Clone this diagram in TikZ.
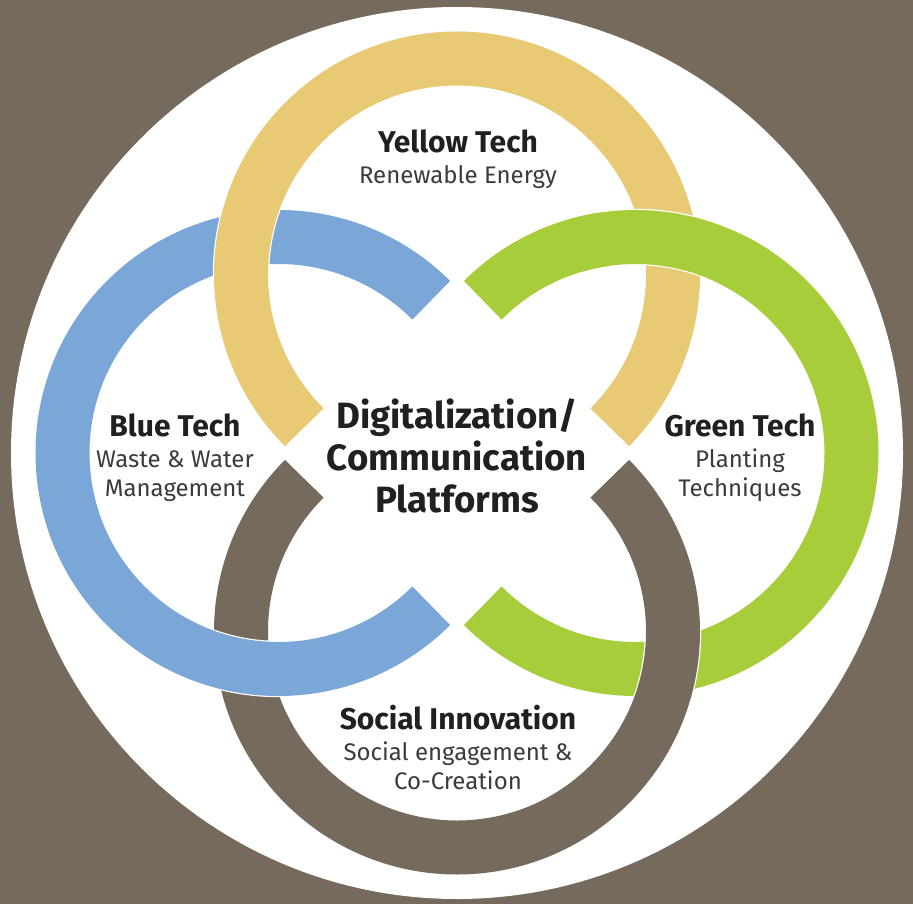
\documentclass[tikz,border=0pt]{standalone}
\usepackage{fontspec}
\setmainfont{Fira Sans}
\definecolor{bgbrown}{RGB}{118,106,93}
\definecolor{ylw}{RGB}{232,202,116}
\definecolor{blu}{RGB}{123,167,216}
\definecolor{grn}{RGB}{168,205,58}
\definecolor{ink}{RGB}{35,31,32}
\definecolor{subink}{RGB}{60,58,58}
\newcommand{\ringtitle}[1]{{\fontsize{15}{15}\selectfont\bfseries\color{ink}#1}}

\begin{document}
\begin{tikzpicture}[ring/.style={draw=white,line width=0.6pt,double distance=27pt},
  group/.style={align=center,text=subink,font=\fontsize{12}{14.5}\selectfont},
  hubtext/.style={align=center,text=ink,font=\fontsize{18.3}{21}\selectfont\bfseries}]
  \useasboundingbox (-228.5pt,-225.5pt) rectangle (228pt,226.5pt);
  \fill[bgbrown] (-228.5pt,-225.5pt) rectangle (228pt,226.5pt);
  \fill[white] (0,0) circle[radius=223pt];
  \coordinate (yc) at (0,89.25pt);
  \coordinate (bc) at (-89.25pt,0);
  \coordinate (gc) at (89.25pt,0);
  \coordinate (sc) at (0,-89.25pt);
  \draw[ring,double=grn] (gc) ++(-135:108pt) arc[start angle=-135,end angle=135,radius=108pt];
  \draw[ring,double=bgbrown] (sc) ++(135:108pt) arc[start angle=135,end angle=405,radius=108pt];
  \draw[ring,double=blu] (bc) ++(45:108pt) arc[start angle=45,end angle=315,radius=108pt];
  \draw[ring,double=ylw] (yc) ++(-45:108pt) arc[start angle=-45,end angle=225,radius=108pt];
  % green passes over yellow
  \draw[white,line width=28.2pt] (gc) ++(64:108pt) arc[start angle=64,end angle=98,radius=108pt];
  \draw[grn,line width=27pt] (gc) ++(56:108pt) arc[start angle=56,end angle=106,radius=108pt];
  \node[group] (yellow) at (0.5pt,147pt) {\ringtitle{Yellow Tech}\\[1pt] Renewable Energy};
  \node[group] (blue) at (-141pt,-2.5pt) {\ringtitle{Blue Tech}\\[1pt] Waste \& Water\\ Management};
  \node[group] (green) at (141.5pt,-2.5pt) {\ringtitle{Green Tech}\\[1pt] Planting\\ Techniques};
  \node[group] (social) at (0.5pt,-147pt) {\ringtitle{Social Innovation}\\[1pt] Social engagement \&\\ Co-Creation};
  \node[hubtext] (hub) at (0,-1.5pt) {Digitalization/\\Communication\\Platforms};
\end{tikzpicture}
\end{document}
